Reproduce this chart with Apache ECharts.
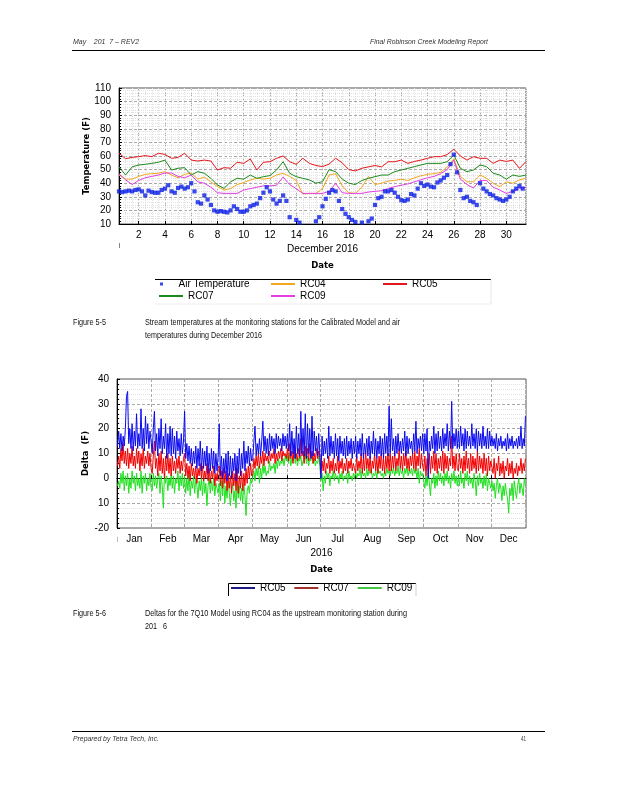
<!DOCTYPE html>
<html><head><meta charset="utf-8">
<script src="https://cdn.jsdelivr.net/npm/echarts@6/dist/echarts.min.js"></script>
<style>html,body{margin:0;padding:0;background:#fff}#c{width:618px;height:800px}</style>
</head><body><div id="c"></div>
<script>
// ===== Figure 5-5 : December 2016 (stream series every 12 h from Dec 1 00:00) =====
const decTickDays = [2,4,6,8,10,12,14,16,18,20,22,24,26,28,30];
const tempTicks = [10,20,30,40,50,60,70,80,90,100,110];
const rc04 = [46,43,43,45,46.5,47,47.3,48.5,46,44,
  46.5,47.5,43,44.5,41,37.5,35,36,39,40.5,
  42.4,43.6,43,43.6,46,47.3,45,42,32,32.5,
  32.5,36,46,47,38,33,32.5,37,45,39,
  40,41.5,42,43,42,44,45.5,46.5,47,48,
  52,58,45,41,41,46,43.6,40,37.5,41,
  40,42.4,43.6];
const rc05 = [62,58,59,59.5,60.3,59.5,62,61.2,58.3,59,
  62,57,56.3,57,56.3,49.7,51.4,51,55.4,54.6,
  57.8,49.7,55.4,55.8,58.3,60,55.8,53.9,58.3,54.6,
  53,52.2,54,58.3,55,50,49,51,52,53,
  52,55.8,55.8,57,54.6,56,57,58.3,59.5,59.5,
  61,65,60,57,59.5,58.3,58.3,54.6,57,56,
  57,50.9,56];
const rc07 = [52,46,52,53.4,53.9,54.6,55.4,57,49.7,51,
  51.4,46,48.5,47.3,43.6,38.7,36.2,41,43.6,43,
  46,43.6,44.8,45.6,49.7,55.8,47.3,44.8,43.6,42.4,
  40,41.1,50,48.5,43,40,39,42,43.6,44.8,
  46,46,48.5,49.7,50.9,52.2,53.4,54.6,54.6,54.6,
  55.8,60.7,51,48.5,49.7,53.4,52.2,47.3,46,43,
  46,45,46];
const rc09 = [47,42.5,39,42,44,45,46,47.5,47.5,45,
  44,46,41,40,37,33,32.5,32.5,32.5,35,
  36,37,38,38,38.5,44.5,39,36,32.5,32.5,
  32.5,32.5,34,39.8,33,32.5,32.5,32.5,33.5,34,
  34.5,36,37.5,38.5,39.5,41,42.5,44,45,47,
  50,57,43,39,36.5,42,42,37,35,32.5,
  34,36,37];
// air temperature every 6 h from Dec 1 00:00 (4 values per day)
const airTemp = [
  34,33.5,34,34.5,  34,35,35.5,34,  31,34.5,33.5,33,  33,35,36,38.5,
  34,33,36.5,37.5,  36,37,40,34,  26,25,31,28,  24,20,19,19.5,
  19,18.5,20,23,  21,19,19,20,  23,24,25,29,  33,37,34,28,
  25,27,31,27,  15,9,13,11,  8,8,8,9,  12,15,23,28.5,
  33,35,34,27,  21,17.5,15,13,  11.5,9,11,9,  12,14,24,29,
  30,34,34,35,  33,30,27.5,27,  28,32,31,36,  40,38,39,37.5,
  37,40.5,42,44,  46,54,61,48,  35,29,30,27,  26,24,40,36,
  34,32,31,29,  28,27,28,30,  34,36,38,36];

// ===== Figure 5-6 : 2016 daily deltas (one value per day, Jan 1 .. Dec 31) =====
const monthLabels = ['Jan','Feb','Mar','Apr','May','Jun','Jul','Aug','Sep','Oct','Nov','Dec'];
const monthStartDays = [0,31,60,91,121,152,182,213,244,274,305,335,366];
const deltaTicks = [-20,-10,0,10,20,30,40];
const deltaTickLabels = ['-20','10','0','10','20','30','40'];
const rc05Delta = [
  13,19,12,18,11,17,13,20,33,35,14,20,12,22,11,19,13,26,12,18,13,28,12,20,11,25,14,22,12,19,15,
  10,20,27,11,18,9,20,12,24,10,17,12,22,8,18,10,21,9,20,10,17,8,19,11,16,9,18,10,15,
  27,8,14,7,13,6,12,5,11,6,13,4,12,5,15,3,12,4,11,5,13,2,10,3,12,4,11,2,10,3,9,
  22,1,9,0,8,2,10,-1,11,1,9,0,8,3,10,-1,9,2,12,1,10,4,15,3,11,6,13,5,12,7,
  8,15,21,9,14,10,16,9,15,23,11,17,10,16,9,18,11,17,12,16,10,18,12,17,13,16,11,18,13,17,12,
  18,11,22,9,19,10,16,8,21,10,18,9,27,10,20,9,26,8,22,10,20,8,25,9,19,11,17,9,18,10,
  0,17,9,15,10,16,8,21,9,17,10,15,8,18,9,16,7,17,10,15,9,16,8,17,9,15,10,16,8,15,10,
  17,8,15,10,16,9,18,8,14,10,16,9,17,8,15,10,19,9,16,8,15,10,17,9,16,8,18,10,17,9,29,
  10,24,11,16,9,17,10,18,11,15,10,16,11,19,9,17,10,16,12,15,10,18,11,23,10,16,12,17,11,18,
  10,18,11,20,0,15,11,17,12,21,10,18,11,19,12,17,11,20,12,18,13,22,11,19,12,31,12,18,13,20,12,
  19,12,21,13,18,11,20,12,19,13,17,12,22,13,18,12,20,11,19,13,18,12,21,13,17,12,20,12,19,13,
  17,13,16,12,18,11,16,13,17,12,15,13,16,11,18,12,16,13,17,12,15,13,16,12,17,13,21,12,16,13,25];
const rc07Delta = [
  5,9,4,12,7,14,6,11,5,12,4,10,6,13,5,9,4,12,6,11,3,10,5,12,4,9,6,11,5,10,4,
  2,9,15,4,8,1,10,3,11,2,8,0,9,3,10,2,8,1,9,3,7,2,8,4,9,2,7,3,8,
  10,1,6,0,5,-1,6,1,4,0,5,-2,4,1,6,0,5,-1,3,0,6,-1,4,-2,3,0,5,-3,2,-1,4,
  5,-3,3,-4,4,-2,3,-5,2,-4,1,-6,3,-3,2,-5,4,-6,1,-4,3,-5,2,-3,4,-2,5,0,6,1,
  2,8,4,9,5,10,4,9,6,11,5,10,7,9,6,11,7,10,8,12,6,10,7,11,8,12,7,11,9,10,8,
  12,7,14,8,11,6,13,8,10,7,12,8,16,9,11,6,13,8,12,7,14,8,11,6,10,7,12,8,11,9,
  2,7,3,8,2,6,4,9,2,7,3,8,2,6,3,9,2,7,4,8,2,6,3,8,2,7,4,8,3,6,4,
  2,9,3,7,4,10,2,8,3,11,4,8,3,9,2,7,4,10,3,8,2,9,4,11,3,8,2,9,4,10,3,
  10,3,9,4,11,3,8,5,12,4,9,3,10,5,11,4,8,3,9,5,10,4,11,3,9,5,12,4,10,5,
  3,9,1,8,3,10,2,9,4,11,3,10,2,8,4,9,3,11,2,10,4,9,3,8,5,17,4,9,3,10,4,
  3,10,4,8,2,9,3,11,4,8,2,10,3,9,4,8,2,11,3,9,4,8,2,10,3,8,1,9,3,7,
  7,2,8,0,6,3,9,1,6,2,7,0,5,3,8,1,6,2,7,0,4,2,6,1,5,3,8,2,6,3,8];
const rc09Delta = [
  -3,-1,-4,2,-2,3,-5,1,-3,2,-6,0,-4,3,-2,1,-5,2,-3,0,-4,3,-6,1,-2,2,-5,0,-3,2,-4,
  -5,2,-3,1,-4,0,2,-6,1,-3,-12,2,-2,1,-5,0,-3,2,-4,1,-6,0,-2,3,-5,1,-3,2,-4,
  1,-6,0,-5,2,-7,-1,-4,1,-6,0,-3,-8,-1,-5,0,-7,1,-6,-2,-11,-3,0,-6,-1,-5,0,-7,-2,-4,-6,
  -2,-9,-1,-7,0,-10,-3,-8,-1,-6,-11,-4,-2,-9,-5,-12,-1,-8,-3,-9,-4,-10,-2,-7,-15,-5,-3,-6,0,-2,
  -2,3,-1,4,1,5,-2,4,0,6,2,5,1,3,2,7,3,5,4,6,2,7,4,8,5,7,6,8,5,9,7,
  9,6,10,5,8,7,10,6,9,5,8,7,9,5,7,8,10,6,9,5,8,7,10,6,8,5,7,6,9,5,
  -1,2,-5,1,-2,3,0,2,-3,1,0,3,-1,2,0,1,-2,2,0,3,-1,1,0,2,-2,3,0,1,-1,2,0,
  3,0,2,1,4,0,3,1,2,0,4,1,3,2,4,0,2,1,3,0,4,2,3,1,2,0,3,1,4,2,3,
  1,5,2,4,1,3,2,5,1,4,2,3,0,4,2,5,1,3,2,4,1,5,2,3,0,4,-2,3,1,2,
  2,-4,1,-3,3,-2,-7,0,-2,2,-4,1,-3,3,-1,2,-2,1,-3,2,-1,3,-2,1,-4,2,-1,3,-2,1,-3,
  1,-3,3,-2,0,-4,2,-1,3,-3,1,-2,0,-4,2,-1,-7,1,-3,2,-2,0,-4,1,-3,2,-5,0,-2,-4,
  -1,-5,-2,-8,-3,0,-6,-2,-4,-9,-3,-7,-2,-6,-8,-14,-4,-7,-2,-9,-1,-5,-8,-3,0,-6,-2,-4,-7,0,-3];

// ===== build =====
const LAB = 'Liberation Sans', DJ = 'DejaVu Sans';
const half = arr => arr.map((v,i) => [1 + i*0.5, v]);
const quarter = arr => arr.map((v,i) => [1 + i*0.25, v]);
const daily = arr => arr.map((v,i) => [i + 0.5, v]);
const monthMids = monthLabels.map((m,i) => (monthStartDays[i] + monthStartDays[i+1]) / 2);
const decLabelPos = decTickDays.map(d => d + 0.5);

const mctx = document.createElement('canvas').getContext('2d');
function fitText(text, x, y, w, o) {
  o = o || {};
  const size = o.size || 9, st = o.style || 'normal', wt = o.weight || 'normal';
  mctx.font = st + ' ' + wt + ' ' + size + "px 'Liberation Sans'";
  const m = mctx.measureText(text).width || 1;
  const al = o.align || 'left';
  return { type:'text', x:x, y:y, scaleX: w/m, silent:true, z:10,
    style:{ text:text, x:0, y:0, fontSize:size, fontFamily:LAB, fontStyle:st, fontWeight:wt,
      fill:o.color || '#111', align:al, textAlign:al, verticalAlign:'middle', textVerticalAlign:'middle' } };
}
function hline(x1,y1,x2,y2,c,w){ return {type:'line', silent:true, shape:{x1:x1,y1:y1,x2:x2,y2:y2}, style:{stroke:c, lineWidth:w||1}}; }

const axisLbl = {fontSize:10, fontFamily:LAB, color:'#000'};
const majorSplit = {show:true, lineStyle:{color:'#a8a8a8', type:[3,2], width:1}};
const minorSplit = {show:true, lineStyle:{color:'#e2e2e2', type:'dotted', width:1}};
const nameBold = {fontFamily:DJ, fontWeight:'bold', fontSize:8.5, color:'#000'};
const legText = {fontSize:10, fontFamily:LAB, color:'#000'};
const legBase = {orient:'horizontal', padding:0, itemWidth:24, itemHeight:2, selectedMode:false, textStyle:legText};

const chart = echarts.init(document.getElementById('c'), null, {renderer:'canvas'});
chart.setOption({
  animation:false,
  backgroundColor:'#fff',
  grid:[
    {left:119, top:88, width:407, height:136, show:true, borderColor:'#555', borderWidth:1},
    {left:117, top:379, width:409, height:149, show:true, borderColor:'#555', borderWidth:1}
  ],
  xAxis:[
    {type:'value', gridIndex:0, min:1, max:32,
     axisLine:{show:true, lineStyle:{color:'#000'}},
     axisTick:{show:true, inside:true, length:3, customValues:decLabelPos, lineStyle:{color:'#000'}},
     axisLabel:Object.assign({customValues:decLabelPos, margin:6, formatter:v => String(Math.floor(v))}, axisLbl),
     splitLine:majorSplit,
     name:'{n|December 2016}\n{b|Date}', nameLocation:'middle', nameGap:16, nameMoveOverlap:false,
     nameTextStyle:{rich:{n:{fontSize:10, fontFamily:LAB, color:'#000', lineHeight:17.5},
                          b:{fontSize:8.5, fontFamily:DJ, fontWeight:'bold', color:'#000', lineHeight:17.5}}}},
    {type:'value', gridIndex:0, min:1, max:32, interval:0.5, position:'top',
     axisLine:{show:false}, axisTick:{show:false}, axisLabel:{show:false}, splitLine:minorSplit},
    {type:'value', gridIndex:1, min:0, max:366,
     axisLine:{show:true, lineStyle:{color:'#000'}},
     axisTick:{show:true, inside:true, length:3, customValues:monthStartDays.slice(1,12), lineStyle:{color:'#000'}},
     axisLabel:Object.assign({customValues:monthMids, margin:6, formatter:v => {
        let k = 0; monthMids.forEach((m,i) => { if (Math.abs(m - v) < Math.abs(monthMids[k] - v)) k = i; });
        return monthLabels[k]; }}, axisLbl),
     splitLine:majorSplit,
     name:'{n|2016}\n{b|Date}', nameLocation:'middle', nameGap:16, nameMoveOverlap:false,
     nameTextStyle:{rich:{n:{fontSize:10, fontFamily:LAB, color:'#000', lineHeight:17.5},
                          b:{fontSize:8.5, fontFamily:DJ, fontWeight:'bold', color:'#000', lineHeight:17.5}}}}
  ],
  yAxis:[
    {type:'value', gridIndex:0, min:10, max:110, interval:10,
     axisLine:{show:true, lineStyle:{color:'#000'}},
     axisTick:{show:true, inside:true, length:3, lineStyle:{color:'#000'}},
     minorTick:{show:true, splitNumber:5, length:2, lineStyle:{color:'#000'}},
     axisLabel:Object.assign({margin:8, customValues:tempTicks}, axisLbl),
     splitLine:majorSplit, minorSplitLine:minorSplit,
     name:'Temperature (F)', nameLocation:'middle', nameRotate:90, nameGap:28, nameMoveOverlap:false, nameTextStyle:nameBold},
    {type:'value', gridIndex:1, min:-20, max:40, interval:10,
     axisLine:{show:true, lineStyle:{color:'#000'}},
     axisTick:{show:true, inside:true, length:3, lineStyle:{color:'#000'}},
     minorTick:{show:true, splitNumber:5, length:2, lineStyle:{color:'#000'}},
     axisLabel:Object.assign({margin:8, formatter:v => {
        const k = deltaTicks.indexOf(v); return k >= 0 ? deltaTickLabels[k] : String(v); }}, axisLbl),
     splitLine:majorSplit, minorSplitLine:minorSplit,
     name:'Delta  (F)', nameLocation:'middle', nameRotate:90, nameGap:27, nameMoveOverlap:false, nameTextStyle:nameBold}
  ],
  legend:[
    Object.assign({}, legBase, {left:160, top:279, itemHeight:3, data:[{name:'Air Temperature', icon:'path://M0,0h1v1h-1z'}]}),
    Object.assign({}, legBase, {left:271, top:279, data:[{name:'RC04', icon:'rect'}]}),
    Object.assign({}, legBase, {left:383, top:279, data:[{name:'RC05', icon:'rect'}]}),
    Object.assign({}, legBase, {left:159, top:291, data:[{name:'RC07', icon:'rect'}]}),
    Object.assign({}, legBase, {left:271, top:291, data:[{name:'RC09', icon:'rect'}]}),
    Object.assign({}, legBase, {left:231, top:583, itemGap:6, data:[
      {name:'RC05 ', icon:'rect', itemStyle:{color:'#1c1c86'}},
      {name:'RC07 ', icon:'rect', itemStyle:{color:'#a3302a'}},
      {name:'RC09 ', icon:'rect', itemStyle:{color:'#44c844'}}]})
  ],
  series:[
    {name:'RC04', type:'line', xAxisIndex:0, yAxisIndex:0, data:half(rc04), showSymbol:false, symbol:'none',
     lineStyle:{color:'#f2a71e', width:1}, itemStyle:{color:'#f2a71e'}, z:2},
    {name:'RC05', type:'line', xAxisIndex:0, yAxisIndex:0, data:half(rc05), showSymbol:false, symbol:'none',
     lineStyle:{color:'#e3161b', width:1}, itemStyle:{color:'#e3161b'}, z:2},
    {name:'RC07', type:'line', xAxisIndex:0, yAxisIndex:0, data:half(rc07), showSymbol:false, symbol:'none',
     lineStyle:{color:'#1a8a1a', width:1}, itemStyle:{color:'#1a8a1a'}, z:2},
    {name:'RC09', type:'line', xAxisIndex:0, yAxisIndex:0, data:half(rc09), showSymbol:false, symbol:'none',
     lineStyle:{color:'#e23ee2', width:1}, itemStyle:{color:'#e23ee2'}, z:2},
    {name:'Air Temperature', type:'scatter', xAxisIndex:0, yAxisIndex:0, data:quarter(airTemp), clip:true,
     symbol:'rect', symbolSize:4.2, itemStyle:{color:'#0a1ee6'}, z:3},
    {name:'RC09 ', type:'line', xAxisIndex:2, yAxisIndex:1, data:daily(rc09Delta), showSymbol:false, symbol:'none',
     lineStyle:{color:'#1ee01e', width:1}, itemStyle:{color:'#44c844'}, z:2},
    {name:'RC07 ', type:'line', xAxisIndex:2, yAxisIndex:1, data:daily(rc07Delta), showSymbol:false, symbol:'none',
     lineStyle:{color:'#f20000', width:1}, itemStyle:{color:'#a3302a'}, z:3},
    {name:'RC05 ', type:'line', xAxisIndex:2, yAxisIndex:1, data:daily(rc05Delta), showSymbol:false, symbol:'none',
     lineStyle:{color:'#0a0af0', width:1}, itemStyle:{color:'#1c1c86'}, z:4}
  ],
  graphic:[
    hline(72,50.5,545,50.5,'#000',1),
    fitText('May    201  7 – REV2', 73, 42, 66, {size:8, style:'italic', color:'#333'}),
    fitText('Final Robinson Creek Modeling Report', 488, 42, 118, {size:8, style:'italic', color:'#333', align:'right'}),
    hline(119.5,243,119.5,248,'#888',1),
    hline(155,279.5,491,279.5,'#000',1),
    hline(491,279.5,491,304,'#e6e6e6',1),
    hline(155,304,491,304,'#eeeeee',1),
    fitText('Figure 5-5', 73, 322, 33, {size:9.5}),
    fitText('Stream temperatures at the monitoring stations for the Calibrated Model and air', 145, 322, 255, {size:9.5}),
    fitText('temperatures during December 2016', 145, 335, 117, {size:9.5}),
    hline(117.5,537,117.5,542,'#bbb',1),
    {type:'polyline', silent:true, shape:{points:[[228.5,596],[228.5,583.5],[416,583.5]]}, style:{stroke:'#000', lineWidth:1, fill:null}},
    hline(416,583.5,416,596,'#cfcfcf',1),
    fitText('Figure 5-6', 73, 613, 33, {size:9.5}),
    fitText('Deltas for the 7Q10 Model using RC04 as the upstream monitoring station during', 145, 613, 262, {size:9.5}),
    fitText('201   6', 145, 626, 22, {size:9.5}),
    hline(72,731.5,545,731.5,'#000',1),
    fitText('Prepared by Tetra Tech, Inc.', 73, 739, 86, {size:8, style:'italic', color:'#333'}),
    fitText('41', 526, 739, 5, {size:8, color:'#333', align:'right'})
  ]
});
</script>
</body></html>
